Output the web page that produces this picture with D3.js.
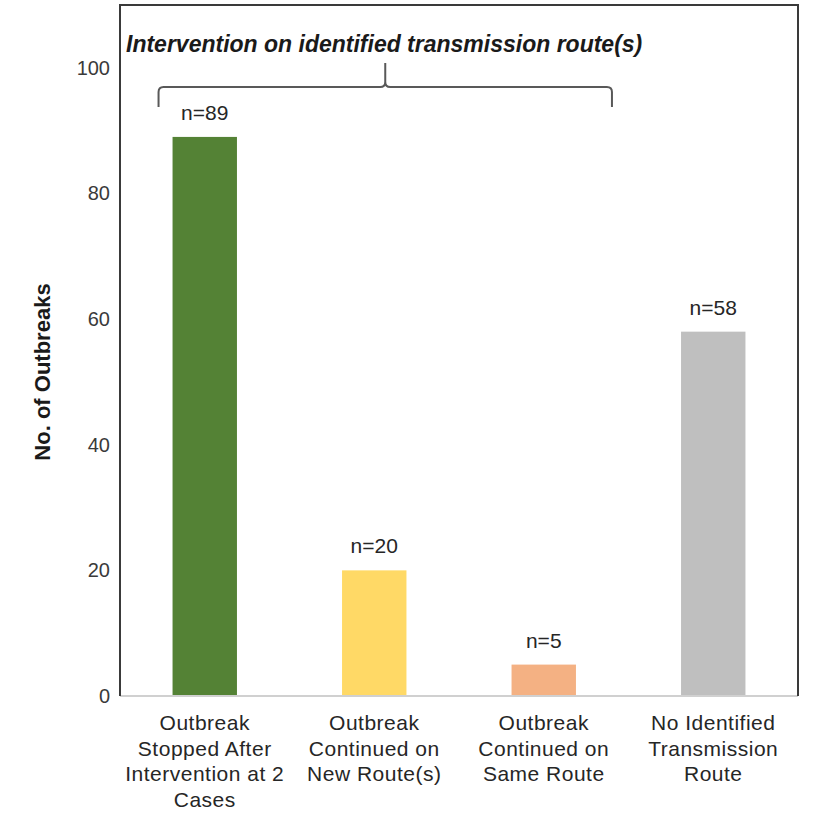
<!DOCTYPE html>
<html>
<head>
<meta charset="utf-8">
<script src="https://cdn.jsdelivr.net/npm/d3@7/dist/d3.min.js"></script>
<style>
  body { margin: 0; background: #fff; }
  svg { display: block; font-family: "Liberation Sans", Arial, sans-serif; }
</style>
</head>
<body>
<svg id="chart" width="813" height="814"></svg>
<script>
// Outbreak outcomes by transmission route
const categories = [
  ["Outbreak", "Stopped After", "Intervention at 2", "Cases"],
  ["Outbreak", "Continued on", "New Route(s)"],
  ["Outbreak", "Continued on", "Same Route"],
  ["No Identified", "Transmission", "Route"]
];
const values = [89, 20, 5, 58];
const colors = ["#548235", "#FFD966", "#F4B183", "#BFBFBF"];
const yTicks = [0, 20, 40, 60, 80, 100];
const yTitle = "No. of Outbreaks";
const bracketTitle = "Intervention on identified transmission route(s)";

const svg = d3.select("#chart");
const plotLeft = 120, plotRight = 798, plotTop = 5, plotBottom = 696;

const keys = categories.map((c, i) => i);
const x = d3.scaleBand().domain(keys).range([plotLeft, plotRight])
  .paddingInner(0.62).paddingOuter(0.31);
const y = d3.scaleLinear().domain([0, 110]).range([plotBottom, plotTop]);

// bars
svg.append("g").selectAll("rect").data(values).join("rect")
  .attr("x", (d, i) => x(i))
  .attr("width", x.bandwidth())
  .attr("y", d => y(d))
  .attr("height", d => y(0) - y(d))
  .attr("fill", (d, i) => colors[i]);

// value labels
svg.append("g").selectAll("text").data(values).join("text")
  .attr("x", (d, i) => x(i) + x.bandwidth() / 2)
  .attr("y", d => y(d) - 17)
  .attr("text-anchor", "middle")
  .attr("font-size", 21)
  .attr("fill", "#262626")
  .text(d => "n=" + d);

// baseline (category axis)
svg.append("line")
  .attr("x1", plotLeft).attr("x2", plotRight)
  .attr("y1", y(0)).attr("y2", y(0))
  .attr("stroke", "#d0d0d0").attr("stroke-width", 2);

// frame around plot area
svg.append("path")
  .attr("d", `M${plotLeft},${y(0)}V${plotTop}H${plotRight}V${y(0)}`)
  .attr("fill", "none").attr("stroke", "#3a3a3a").attr("stroke-width", 2);

// y axis tick labels
const yAxis = d3.axisLeft(y).tickValues(yTicks).tickSize(0).tickPadding(10);
const gy = svg.append("g").attr("transform", `translate(${plotLeft},0)`).call(yAxis);
gy.select(".domain").remove();
gy.selectAll("text")
  .attr("font-size", 20)
  .attr("font-family", "Liberation Sans, Arial, sans-serif")
  .attr("fill", "#3a3a3a");

// y axis title
svg.append("text")
  .attr("transform", `translate(50, 372) rotate(-90)`)
  .attr("text-anchor", "middle")
  .attr("font-size", 22)
  .attr("font-weight", "bold")
  .attr("fill", "#1a1a1a")
  .text(yTitle);

// category labels
const gx = svg.append("g");
categories.forEach((lines, i) => {
  const t = gx.append("text")
    .attr("text-anchor", "middle")
    .attr("font-size", 21)
    .attr("letter-spacing", 0.5)
    .attr("fill", "#262626");
  lines.forEach((ln, j) => {
    t.append("tspan")
      .attr("x", x(i) + x.bandwidth() / 2)
      .attr("y", y(0) + 34 + j * 25.7)
      .text(ln);
  });
});

// bracket grouping the first three categories
const bx0 = x(0) - 14, bx1 = x(2) + x.bandwidth() + 36;
const bmid = (bx0 + bx1) / 2, by = 87, bEnd = 107, bTop = 63, r = 5;
svg.append("path")
  .attr("d",
    `M${bx0},${bEnd}V${by + r}Q${bx0},${by} ${bx0 + r},${by}` +
    `H${bmid - r}Q${bmid},${by} ${bmid},${by - r}V${bTop}` +
    `M${bmid},${by - r}Q${bmid},${by} ${bmid + r},${by}` +
    `H${bx1 - r}Q${bx1},${by} ${bx1},${by + r}V${bEnd}`)
  .attr("fill", "none").attr("stroke", "#595959").attr("stroke-width", 2);

svg.append("text")
  .attr("x", 126).attr("y", 52)
  .attr("font-size", 23)
  .attr("font-weight", "bold")
  .attr("font-style", "italic")
  .attr("fill", "#1a1a1a")
  .text(bracketTitle);
</script>
</body>
</html>
